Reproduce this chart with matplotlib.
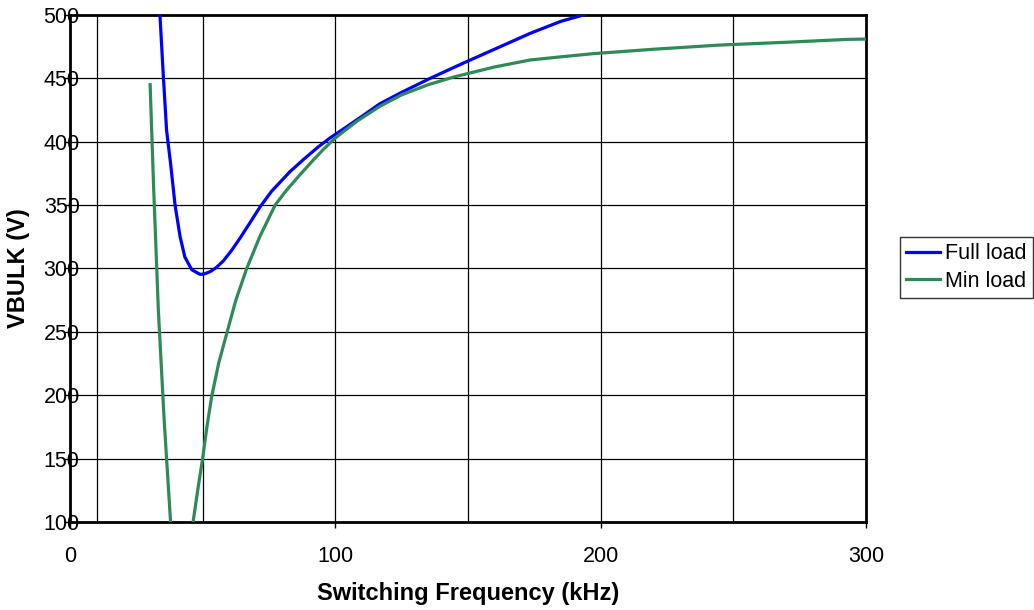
import numpy as np
import matplotlib.pyplot as plt

plt.rcParams['font.family'] = ['Liberation Sans', 'DejaVu Sans']

# Full load curve (kHz, V)
freq_full = [33.3, 33.9, 35.2, 36.4, 37.9, 39.6, 41.5, 43.3, 45.9, 49.0, 50.5, 52.8, 55.0,
             57.8, 60.8, 64.1, 67.8, 71.6, 76.0, 82.9, 88.0, 93.6, 98.0, 103.0, 110.0,
             116.8, 125.0, 135.7, 148.2, 160.0, 173.4, 185.0, 193.5, 200.0]
vbulk_full = [510, 500, 451, 409, 383, 350, 325, 309, 299, 295.4, 295.6, 297.5, 300.5,
              306, 314, 324, 336, 348.5, 361, 376.4, 386, 396, 403, 410, 420,
              430, 439, 450, 462, 473, 485.5, 495, 500, 506]

# Min load curve (two branches, joined below the visible range)
freq_min = [30.2, 31.5, 33.3, 35.5, 37.9, 38.6, 45.6, 46.5, 48.2, 50.0, 51.6, 53.4, 56.0,
            59.1, 62.5, 66.6, 71.5, 77.3, 81.5, 86.7, 91.0, 95.5, 100.0, 108.0, 116.8,
            125.0, 135.0, 144.5, 160.0, 173.4, 185.0, 197.2, 220.0, 245.0, 270.0, 293.3, 300.0]
vbulk_min = [445, 365, 267, 180, 100, 60, 60, 101.6, 126, 150.2, 175, 199, 225,
             249, 275, 300, 325, 350, 361.5, 374, 384, 394, 403, 416, 428,
             437, 445, 451, 459, 464.5, 467, 469.5, 473, 476.3, 478.5, 480.8, 481]

x_ticks = [0, 100, 200, 300]
y_ticks = [100, 150, 200, 250, 300, 350, 400, 450, 500]
x_grid = [10, 50, 100, 150, 200, 250]

fig = plt.figure(figsize=(10.34, 6.10), dpi=100)
ax = fig.add_axes([0.0677, 0.1443, 0.7698, 0.8311])

ax.plot(freq_full, vbulk_full, color='#0000ff', lw=2.3, label='Full load', zorder=3)
ax.plot(freq_min, vbulk_min, color='#2e8b57', lw=2.3, label='Min load', zorder=3)

for xg in x_grid:
    ax.axvline(xg, color='black', lw=0.9, zorder=1)
for yg in y_ticks[1:-1]:
    ax.axhline(yg, color='black', lw=0.9, zorder=1)

ax.set_xlim(0, 300)
ax.set_ylim(100, 500)
ax.set_xticks(x_ticks)
ax.set_yticks(y_ticks)
ax.tick_params(axis='x', direction='out', length=4, width=1, pad=13, labelsize=15.5)
ax.tick_params(axis='y', direction='out', length=4, width=1, pad=-11, labelsize=15.5)
for sp in ax.spines.values():
    sp.set_linewidth(2)
    sp.set_color('black')

ax.set_xlabel('Switching Frequency (kHz)', fontsize=17, fontweight='bold', labelpad=11)
ax.set_ylabel('VBULK (V)', fontsize=17, fontweight='bold', labelpad=10)

leg = fig.legend(loc='upper left', bbox_to_anchor=(0.870, 0.612), fontsize=15.5,
                 frameon=True, fancybox=False, handlelength=1.6, handletextpad=0.2,
                 borderpad=0.3, labelspacing=0.3, borderaxespad=0)
leg.get_frame().set_edgecolor('black')
leg.get_frame().set_linewidth(1)

fig.savefig('out.png', dpi=100)
